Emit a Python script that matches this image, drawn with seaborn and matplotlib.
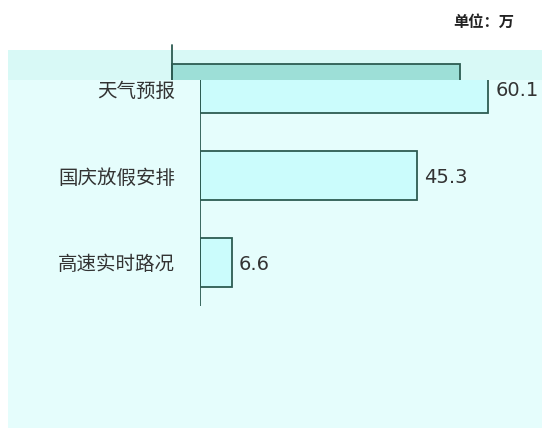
import matplotlib
matplotlib.use("Agg")
import matplotlib.pyplot as plt
import seaborn as sns
from matplotlib.patches import Rectangle

categories = ["天气预报", "国庆放假安排", "高速实时路况"]
values = [60.1, 45.3, 6.6]
unit_text = "单位：万"

W, H = 542, 430

sns.set_theme(style="white")
plt.rcParams['font.family'] = ['Noto Sans CJK SC', 'DejaVu Sans']

fig = plt.figure(figsize=(W / 100, H / 100), dpi=100)
fig.patch.set_facecolor("white")


def fbox(x0, y0, x1, y1):
    # pixel box (top-left origin) -> figure fraction [l, b, w, h]
    return [x0 / W, (H - y1) / H, (x1 - x0) / W, (y1 - y0) / H]


# light cyan panel behind the chart
panel = Rectangle((8 / W, (H - 428) / H), (W - 8) / W, 378 / H, transform=fig.transFigure,
                  facecolor="#e5fdfc", edgecolor="none", zorder=-1)
fig.add_artist(panel)

edge = "#2d5c52"
ax_x0, ax_x1, ax_y0, ax_y1 = 200, 530, 45, 306
xmax = (ax_x1 - ax_x0) / 4.8

ax = fig.add_axes(fbox(ax_x0, ax_y0, ax_x1, ax_y1))
ax.set_facecolor("none")
sns.barplot(x=values, y=categories, orient="h", ax=ax, color="#cbfcfc",
            edgecolor=edge, linewidth=1.3, width=0.56, saturation=1)
ax.set_xlim(0, xmax)
ax.set_ylim(2.5, -0.5)
for s in ax.spines.values():
    s.set_visible(False)
ax.axvline(0, ymin=0.0, ymax=(ax_y1 - 80) / (ax_y1 - ax_y0), color=edge, lw=1.3)
ax.set_xticks([])
ax.set_xlabel("")
ax.set_ylabel("")
ax.tick_params(axis="y", length=0, pad=18, labelsize=14, labelcolor="#333333")
for i, v in enumerate(values):
    ax.text(v + 1.4, i + 0.025, f"{v}", va="center", ha="left", fontsize=14,
            color="#333333", family="DejaVu Sans")

# the shifted darker strip at the top
strip = Rectangle((8 / W, (H - 80) / H), (W - 8) / W, 30 / H, transform=fig.transFigure,
                  facecolor="#d8f9f6", edgecolor="none", zorder=1)
fig.add_artist(strip)

ax2 = fig.add_axes(fbox(ax_x0 - 28, ax_y0, ax_x1 - 28, ax_y1))
ax2.set_zorder(2)
ax2.set_facecolor("none")
sns.barplot(x=values, y=categories, orient="h", ax=ax2, color="#9ddfd7",
            edgecolor=edge, linewidth=1.3, width=0.56, saturation=1)
ax2.set_xlim(0, xmax)
ax2.set_ylim(2.5, -0.5)
ax2.axis("off")
ax2.axvline(0, ymin=(ax_y1 - 80) / (ax_y1 - ax_y0), ymax=1.0, color=edge, lw=1.3)
clip = Rectangle((8 / W, (H - 80) / H), (W - 8) / W, 37 / H, transform=fig.transFigure)
for art in ax2.patches + ax2.lines:
    art.set_clip_path(clip)

fig.text(484 / W, (H - 22) / H, unit_text, ha="center", va="center", fontsize=11,
         color="#222222", fontweight="bold")

fig.savefig("out.png", dpi=100)
